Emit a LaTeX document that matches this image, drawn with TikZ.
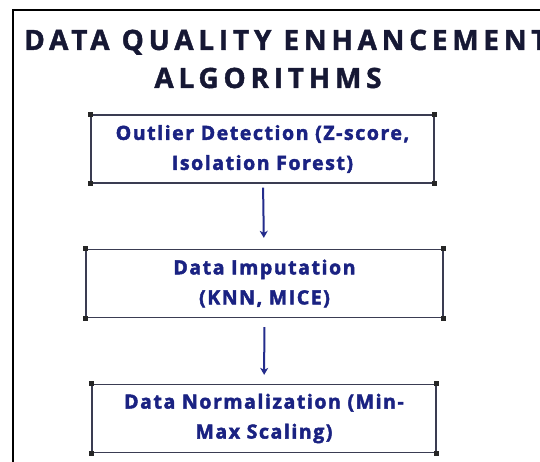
\documentclass[tikz,border=0pt]{standalone}
\usepackage{fontspec}
\setmainfont{Open Sans}
\newfontfamily\titlefont[LetterSpace=17, FakeBold=1.5]{Open Sans}
\newfontfamily\stepfont[LetterSpace=8, FakeBold=2.2]{Open Sans}
\usetikzlibrary{arrows.meta, positioning}
\definecolor{titleColor}{RGB}{22,24,52}
\definecolor{stepColor}{RGB}{26,34,130}
\definecolor{edgeColor}{RGB}{58,60,82}
\definecolor{arrowColor}{RGB}{36,44,140}

\begin{document}
\begin{tikzpicture}[
        x=1pt, y=-1pt,
        stepbox/.style={rectangle, draw=edgeColor, line width=1.3pt, align=center, inner sep=0pt,
            minimum height=68pt, text=stepColor, font=\stepfont\fontsize{19.5}{30}\selectfont\bfseries},
        titletext/.style={text=titleColor, font=\titlefont\fontsize{28}{38}\selectfont\bfseries},
        arrow/.style={-{Stealth[length=7pt, width=8pt, inset=2pt]}, line width=2pt, draw=arrowColor},
        marker/.style={fill=black!85}
    ]
        \useasboundingbox (0,0) rectangle (540,462);
        \clip (0,0) rectangle (540,462);

        % outer frame (cut off on the right and bottom)
        \draw[line width=2pt, black] (13,462) -- (13,10) -- (540,10);

        % title
        \node[titletext, anchor=base west, inner sep=0pt] (title1) at (24,50) {DATA QUALITY ENHANCEMENT};
        \node[titletext, anchor=base] (title2) at (268,88) {ALGORITHMS};

        % steps
        \node[stepbox, minimum width=343pt] (outlier) at (262.5,149) {Outlier Detection (Z-score,\\Isolation Forest)};
        \node[stepbox, minimum width=357pt] (imput) at (264.5,283.5) {Data Imputation\\(KNN, MICE)};
        \node[stepbox, minimum width=344pt] (norm) at (264,418.5) {Data Normalization (Min-\\Max Scaling)};

        % corner handles
        \foreach \n in {outlier, imput, norm}
            \foreach \c in {north west, north east, south west, south east}
                \fill[marker] (\n.\c) +(-2.5,-2.5) rectangle +(2.5,2.5);

        \draw[arrow, shorten <=4pt, shorten >=11pt] (outlier) -- (imput);
        \draw[arrow, shorten <=9pt, shorten >=9pt] (imput) -- (norm);
    \end{tikzpicture}
\end{document}
